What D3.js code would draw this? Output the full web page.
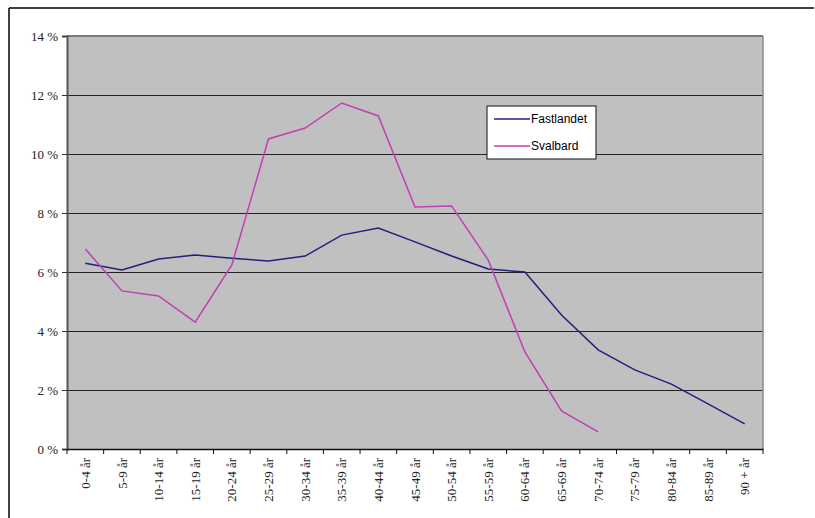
<!DOCTYPE html>
<html>
<head>
<meta charset="utf-8">
<script src="https://cdn.jsdelivr.net/npm/d3@7"></script>
<style>
  body { margin: 0; background: #fff; }
  svg { display: block; }
  .serif text { font-family: "Liberation Serif", "Times New Roman", serif; font-size: 13px; fill: #222; }
</style>
</head>
<body>
<svg id="chart"></svg>
<script>
const categories = ['0-4 år', '5-9 år', '10-14 år', '15-19 år', '20-24 år', '25-29 år', '30-34 år',
  '35-39 år', '40-44 år', '45-49 år', '50-54 år', '55-59 år', '60-64 år', '65-69 år', '70-74 år',
  '75-79 år', '80-84 år', '85-89 år', '90 + år'];
const fastlandet = [6.3, 6.07, 6.44, 6.58, 6.47, 6.37, 6.54, 7.25, 7.49, 7.02, 6.54, 6.1, 6.0,
  4.54, 3.36, 2.68, 2.2, 1.53, 0.85];
const svalbard = [6.78, 5.36, 5.19, 4.3, 6.24, 10.51, 10.88, 11.73, 11.29, 8.2, 8.24, 6.4, 3.29,
  1.29, 0.58];
const yTicks = [0, 2, 4, 6, 8, 10, 12, 14];
const seriesNames = ['Fastlandet', 'Svalbard'];
const seriesColors = ['#202080', '#c040b0'];

const W = 815, H = 518;
const pLeft = 67, pTop = 36, pRight = 763, pBottom = 449;

const svg = d3.select('#chart').attr('width', W).attr('height', H);

// outer frame
svg.append('line').attr('x1', 9).attr('x2', 814).attr('y1', 8).attr('y2', 8)
  .attr('stroke', '#000').attr('stroke-width', 1.5);
svg.append('line').attr('x1', 9).attr('x2', 9).attr('y1', 8).attr('y2', H)
  .attr('stroke', '#000').attr('stroke-width', 1.5);

const x = d3.scaleBand().domain(categories).range([pLeft, pRight]);
const y = d3.scaleLinear().domain([0, 14]).range([pBottom, pTop]);

svg.append('rect')
  .attr('x', pLeft).attr('y', pTop)
  .attr('width', pRight - pLeft).attr('height', pBottom - pTop)
  .attr('fill', '#c0c0c0');

// grid
svg.append('g')
  .selectAll('line')
  .data(yTicks.slice(1, -1))
  .join('line')
  .attr('x1', pLeft).attr('x2', pRight)
  .attr('y1', d => Math.round(y(d)) + 0.5).attr('y2', d => Math.round(y(d)) + 0.5)
  .attr('stroke', '#222').attr('stroke-width', 1);

// plot border top/right
svg.append('line').attr('x1', pLeft).attr('x2', pRight).attr('y1', pTop).attr('y2', pTop)
  .attr('stroke', '#7a7a7a').attr('stroke-width', 2);
svg.append('line').attr('x1', pRight).attr('x2', pRight).attr('y1', pTop).attr('y2', pBottom)
  .attr('stroke', '#8a8a8a').attr('stroke-width', 1.5);

// y axis
const yAxis = svg.append('g')
  .attr('class', 'serif')
  .attr('transform', `translate(${pLeft},0)`)
  .call(d3.axisLeft(y).tickValues(yTicks).tickSize(5).tickPadding(4).tickFormat(d => d + ' %'));
yAxis.attr('font-family', null).attr('font-size', null);
yAxis.select('.domain').attr('stroke', '#555').attr('stroke-width', 2);
yAxis.selectAll('.tick line').attr('stroke', '#333');

// x axis
const xAxis = svg.append('g')
  .attr('class', 'serif')
  .attr('transform', `translate(0,${pBottom})`)
  .call(d3.axisBottom(x).tickSize(0).tickSizeOuter(0));
xAxis.attr('font-family', null).attr('font-size', null);
xAxis.select('.domain').attr('stroke', '#111').attr('stroke-width', 1.5);
xAxis.selectAll('.tick line').remove();
xAxis.selectAll('text')
  .attr('transform', 'rotate(-90)')
  .attr('text-anchor', 'end')
  .attr('x', -9).attr('y', 0).attr('dy', '0.35em');

// boundary ticks
svg.append('g')
  .selectAll('line')
  .data(categories)
  .join('line')
  .attr('x1', d => x(d)).attr('x2', d => x(d))
  .attr('y1', pBottom).attr('y2', pBottom + 5)
  .attr('stroke', '#111');
svg.append('line').attr('x1', pRight).attr('x2', pRight)
  .attr('y1', pBottom).attr('y2', pBottom + 5).attr('stroke', '#111');

const line = d3.line()
  .x((d, i) => x(categories[i]) + x.bandwidth() / 2)
  .y(d => y(d));

[fastlandet, svalbard].forEach((s, i) => {
  svg.append('path')
    .datum(s)
    .attr('d', line)
    .attr('fill', 'none')
    .attr('stroke', seriesColors[i])
    .attr('stroke-width', 1.5);
});

// legend
const lg = svg.append('g').attr('transform', 'translate(487,106)');
lg.append('rect').attr('width', 109).attr('height', 53)
  .attr('fill', '#fff').attr('stroke', '#111').attr('stroke-width', 1);
seriesNames.forEach((n, i) => {
  const yy = 13 + i * 27;
  lg.append('line').attr('x1', 7).attr('x2', 43).attr('y1', yy).attr('y2', yy)
    .attr('stroke', seriesColors[i]).attr('stroke-width', 1.5);
  lg.append('text').attr('x', 44).attr('y', yy).attr('dy', '0.35em')
    .style('font-family', '"Liberation Sans", Arial, sans-serif')
    .style('font-size', '12px').attr('fill', '#000')
    .text(n);
});
</script>
</body>
</html>
